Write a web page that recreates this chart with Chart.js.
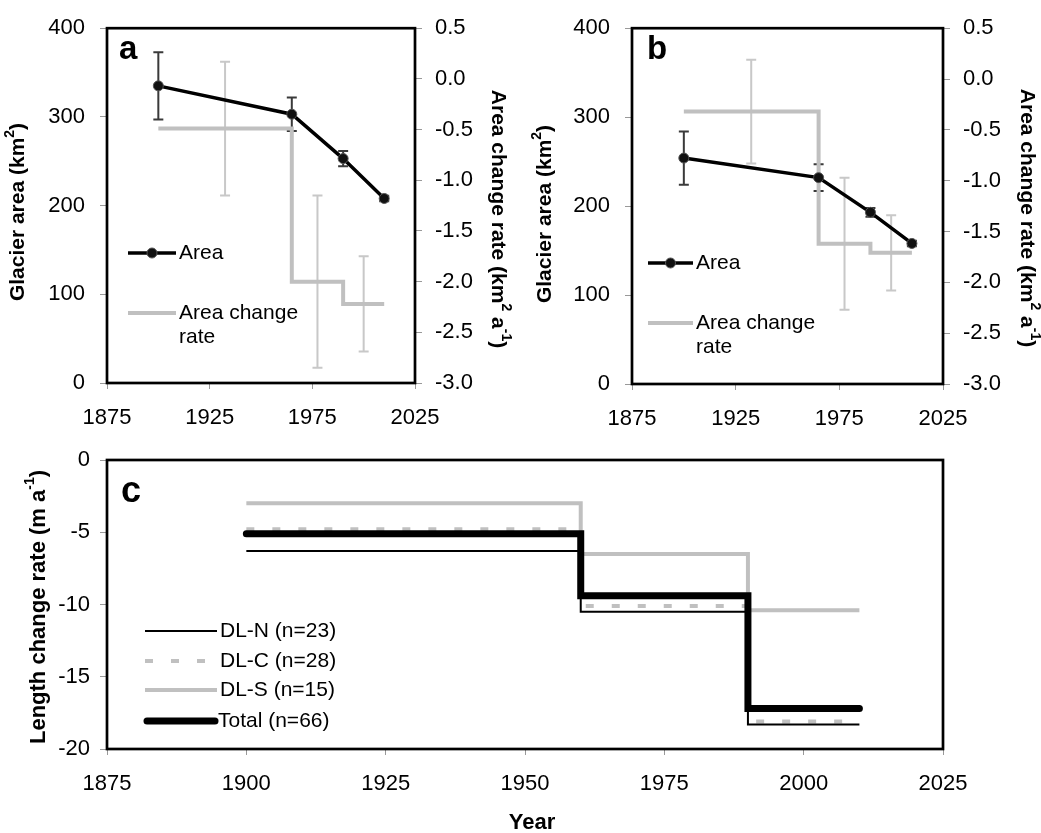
<!DOCTYPE html>
<html>
<head>
<meta charset="utf-8">
<script src="https://cdn.jsdelivr.net/npm/chart.js@4.4.1/dist/chart.umd.min.js"></script>
<style>
body { margin: 0; background: #fff; }
#wrap { position: relative; width: 1041px; height: 833px; }
canvas { position: absolute; }
</style>
</head>
<body>
<div id="wrap">
<canvas id="chart-a" width="520" height="430" style="left:0;top:0"></canvas>
<canvas id="chart-b" width="521" height="430" style="left:520px;top:0"></canvas>
<canvas id="chart-c" width="1041" height="403" style="left:0;top:430px"></canvas>
</div>
<script>
// glacier area (km2) at survey years, with error
const areaYears = [1900, 1965, 1990, 2010]
const areaA = [335, 303, 253, 208]
const areaErrA = [38, 19, 8.5, 3]
const areaB = [254, 232, 193, 158]
const areaErrB = [30, 15, 5, 3]

// area change rate (km2 a-1) per period
const periodEdges = [1900, 1965, 1990, 2010]
const periodMid = [1932.5, 1977.5, 2000]
const rateA = [-0.49, -2.0, -2.22]
const rateErrA = [0.66, 0.85, 0.47]
const rateB = [-0.32, -1.62, -1.71]
const rateErrB = [0.51, 0.65, 0.37]

// length change rate (m a-1) per period
const lengthEdges = [1900, 1960, 1990, 2010]
const dlN = [-6.3, -10.5, -18.3]
const dlC = [-4.8, -10.1, -18.1]
const dlS = [-3.0, -6.5, -10.4]
const total = [-5.1, -9.4, -17.2]

const FONT = 'Liberation Sans, Arial, sans-serif'

function steps(edges, values) {
    return edges.map((x, i) => ({ x: x, y: values[Math.min(i, values.length - 1)] }))
}

function points(xs, ys) {
    return xs.map((x, i) => ({ x: x, y: ys[i] }))
}

// box round the plot area
const framePlugin = {
    id: 'frame',
    afterDatasetsDraw(chart) {
        const { ctx, chartArea: a } = chart
        ctx.save()
        ctx.strokeStyle = '#000'
        ctx.lineWidth = 2.7
        ctx.strokeRect(a.left, a.top, a.right - a.left, a.bottom - a.top)
        ctx.restore()
    }
}

function errorBars(sets) {
    return {
        id: 'errorBars',
        beforeDatasetsDraw(chart) {
            const ctx = chart.ctx
            sets.forEach(set => {
                const xs = chart.scales.x
                const ys = chart.scales[set.axis]
                ctx.save()
                ctx.strokeStyle = set.color
                ctx.lineWidth = set.width
                set.x.forEach((xv, i) => {
                    const px = xs.getPixelForValue(xv)
                    const top = ys.getPixelForValue(set.y[i] + set.err[i])
                    const bot = ys.getPixelForValue(set.y[i] - set.err[i])
                    ctx.beginPath()
                    ctx.moveTo(px, top); ctx.lineTo(px, bot)
                    ctx.moveTo(px - set.cap, top); ctx.lineTo(px + set.cap, top)
                    ctx.moveTo(px - set.cap, bot); ctx.lineTo(px + set.cap, bot)
                    ctx.stroke()
                })
                ctx.restore()
            })
        }
    }
}

// axis titles with superscripts, panel letters
function texts(items) {
    return {
        id: 'texts',
        afterDraw(chart) {
            const ctx = chart.ctx
            items.forEach(it => {
                ctx.save()
                ctx.translate(it.x, it.y)
                ctx.rotate(it.rot || 0)
                ctx.fillStyle = '#000'
                ctx.textAlign = 'left'
                ctx.textBaseline = it.baseline || 'middle'
                const fontOf = sup => (it.weight || 'bold') + ' ' + (sup ? Math.round(it.size * 0.65) : it.size) + 'px ' + FONT
                let w = 0
                it.parts.forEach(p => { ctx.font = fontOf(p[1]); w += ctx.measureText(p[0]).width })
                let cx = it.align === 'left' ? 0 : -w / 2
                it.parts.forEach(p => {
                    ctx.font = fontOf(p[1])
                    ctx.fillText(p[0], cx, p[1] ? -it.size * 0.38 : 0)
                    cx += ctx.measureText(p[0]).width
                })
                ctx.restore()
            })
        }
    }
}

function legendBox(entries) {
    return {
        id: 'legendBox',
        afterDraw(chart) {
            const ctx = chart.ctx
            entries.forEach(e => {
                const ds = chart.data.datasets[e.index]
                ctx.save()
                ctx.strokeStyle = ds.borderColor
                ctx.lineWidth = ds.borderWidth
                ctx.lineCap = ds.borderCapStyle || 'butt'
                ctx.setLineDash(ds.borderDash || [])
                ctx.beginPath()
                ctx.moveTo(e.x1, e.y)
                ctx.lineTo(e.x2, e.y)
                ctx.stroke()
                if (ds.pointRadius) {
                    ctx.setLineDash([])
                    ctx.beginPath()
                    ctx.arc((e.x1 + e.x2) / 2, e.y, ds.pointRadius, 0, Math.PI * 2)
                    ctx.fillStyle = ds.pointBackgroundColor
                    ctx.fill()
                    ctx.lineWidth = ds.pointBorderWidth
                    ctx.strokeStyle = ds.pointBorderColor
                    ctx.stroke()
                }
                ctx.fillStyle = '#000'
                ctx.font = '21px ' + FONT
                ctx.textBaseline = 'middle'
                ctx.textAlign = 'left'
                e.lines.forEach((t, k) => ctx.fillText(t, e.x2 + 3, e.y + k * 24))
                ctx.restore()
            })
        }
    }
}

function xAxis(stepSize, height, pad) {
    return {
        type: 'linear', min: 1875, max: 2025,
        ticks: { stepSize: stepSize, color: '#000', font: { family: FONT, size: 22 }, padding: pad, maxRotation: 0, autoSkip: false, callback: v => String(v) },
        grid: { drawOnChartArea: false, drawTicks: true, tickLength: 6, color: '#999' },
        border: { display: false },
        afterFit: s => { s.height = height }
    }
}

function yAxis(pos, min, max, stepSize, width, pad, digits) {
    return {
        type: 'linear', position: pos, min: min, max: max,
        ticks: { stepSize: stepSize, color: '#000', font: { family: FONT, size: 22 }, padding: pad, callback: v => Number(v).toFixed(digits) },
        grid: { drawOnChartArea: false, drawTicks: true, tickLength: 7, color: '#999' },
        border: { display: false },
        afterFit: s => { s.width = width }
    }
}

function areaChart(canvas, area, areaErr, rate, rateErr, geo, extras) {
    return new Chart(canvas.getContext('2d'), {
        type: 'line',
        data: {
            datasets: [
                {
                    label: 'Area',
                    data: points(areaYears, area),
                    yAxisID: 'y',
                    borderColor: '#000',
                    borderWidth: 3.5,
                    pointRadius: 5,
                    pointBackgroundColor: '#111',
                    pointBorderColor: '#555',
                    pointBorderWidth: 1
                },
                {
                    label: 'Area change rate',
                    data: steps(periodEdges, rate),
                    yAxisID: 'y2',
                    borderColor: '#c0c0c0',
                    borderWidth: 4,
                    stepped: true,
                    pointRadius: 0
                }
            ]
        },
        options: {
            responsive: false,
            animation: false,
            layout: { padding: { top: geo.top, left: 0, right: 0, bottom: 0 } },
            plugins: { legend: { display: false }, tooltip: { enabled: false } },
            scales: {
                x: xAxis(50, geo.xh, 16),
                y: yAxis('left', 0, 400, 100, geo.lw, geo.lpad, 0),
                y2: yAxis('right', -3, 0.5, 0.5, geo.rw, 13, 1)
            }
        },
        plugins: [
            errorBars([
                { x: periodMid, y: rate, err: rateErr, axis: 'y2', color: '#c8c8c8', width: 2, cap: 5 },
                { x: areaYears, y: area, err: areaErr, axis: 'y', color: '#3a3a3a', width: 2, cap: 5 }
            ]),
            framePlugin,
            legendBox([
                { index: 0, x1: extras.lx1, x2: extras.lx2, y: extras.ly1, lines: ['Area'] },
                { index: 1, x1: extras.lx1, x2: extras.lx2, y: extras.ly2, lines: ['Area change', 'rate'] }
            ]),
            texts([
                { parts: [['Glacier area (km', 0], ['2', 1], [')', 0]], x: extras.t1x, y: extras.t1y, rot: -Math.PI / 2, size: 21 },
                { parts: [['Area change rate (km', 0], ['2', 1], [' a', 0], ['-1', 1], [')', 0]], x: extras.t2x, y: extras.t2y, rot: Math.PI / 2, size: 21 },
                { parts: [[extras.letter, 0]], x: extras.letterX, y: 59, size: 33, baseline: 'alphabetic', align: 'left' }
            ])
        ]
    })
}

function main() {
    areaChart(document.querySelector('#chart-a'), areaA, areaErrA, rateA, rateErrA,
        { top: 23, xh: 47, lw: 107, rw: 105, lpad: 15 },
        { lx1: 128, lx2: 176, ly1: 253, ly2: 313, t1x: 18, t1y: 212, t2x: 498, t2y: 219, letter: 'a', letterX: 119 })

    areaChart(document.querySelector('#chart-b'), areaB, areaErrB, rateB, rateErrB,
        { top: 23, xh: 46, lw: 112, rw: 98, lpad: 15 },
        { lx1: 128, lx2: 173, ly1: 263, ly2: 323, t1x: 25, t1y: 214, t2x: 507, t2y: 218, letter: 'b', letterX: 127 })

    new Chart(document.querySelector('#chart-c').getContext('2d'), {
        type: 'line',
        data: {
            datasets: [
                { label: 'Total (n=66)', data: steps(lengthEdges, total), borderColor: '#000', borderWidth: 7, borderCapStyle: 'round', stepped: true, pointRadius: 0 },
                { label: 'DL-N (n=23)', data: steps(lengthEdges, dlN), borderColor: '#000', borderWidth: 2, stepped: true, pointRadius: 0 },
                { label: 'DL-C (n=28)', data: steps(lengthEdges, dlC), borderColor: '#c0c0c0', borderWidth: 4, borderDash: [8, 18], stepped: true, pointRadius: 0 },
                { label: 'DL-S (n=15)', data: steps(lengthEdges, dlS), borderColor: '#c0c0c0', borderWidth: 4, stepped: true, pointRadius: 0 }
            ]
        },
        options: {
            responsive: false,
            animation: false,
            layout: { padding: { top: 30, left: 0, right: 98, bottom: 0 } },
            plugins: { legend: { display: false }, tooltip: { enabled: false } },
            scales: {
                x: xAxis(25, 84, 16),
                y: yAxis('left', -20, 0, 5, 107, 10, 0)
            }
        },
        plugins: [
            framePlugin,
            legendBox([
                { index: 1, x1: 145, x2: 217, y: 201, lines: ['DL-N (n=23)'] },
                { index: 2, x1: 145, x2: 217, y: 231, lines: ['DL-C (n=28)'] },
                { index: 3, x1: 145, x2: 217, y: 260, lines: ['DL-S (n=15)'] },
                { index: 0, x1: 147, x2: 215, y: 291, lines: ['Total (n=66)'] }
            ]),
            texts([
                { parts: [['Length change rate (m a', 0], ['-1', 1], [')', 0]], x: 39, y: 177, rot: -Math.PI / 2, size: 22 },
                { parts: [['Year', 0]], x: 532, y: 393, size: 22 },
                { parts: [['c', 0]], x: 121, y: 72, size: 36, baseline: 'alphabetic', align: 'left' }
            ])
        ]
    })
}
main()
</script>
</body>
</html>
